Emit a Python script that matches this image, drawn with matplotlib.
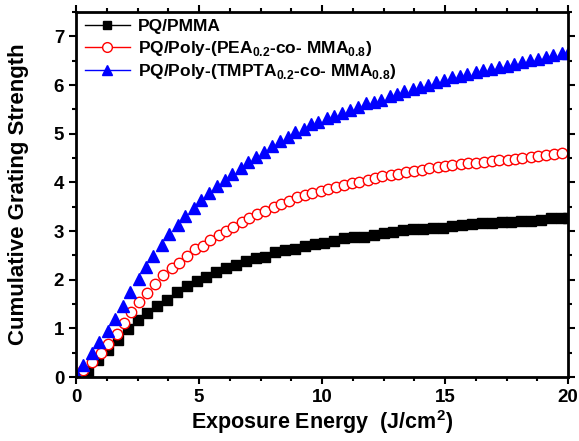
import matplotlib
matplotlib.use("Agg")
import matplotlib.pyplot as plt
from matplotlib.ticker import MultipleLocator
from matplotlib.lines import Line2D

plt.rcParams['font.family'] = ['Liberation Sans', 'DejaVu Sans']
plt.rcParams['mathtext.fontset'] = 'custom'
plt.rcParams['mathtext.rm'] = 'Liberation Sans'
plt.rcParams['mathtext.bf'] = 'Liberation Sans:bold'

pmma_x = [0.5, 0.9, 1.3, 1.7, 2.1, 2.5, 2.9, 3.3, 3.7, 4.1, 4.5, 4.9, 5.3, 5.7, 6.1, 6.5, 6.9, 7.3, 7.7,
          8.1, 8.5, 8.9, 9.3, 9.7, 10.1, 10.5, 10.9, 11.3, 11.7, 12.1, 12.5, 12.9, 13.3, 13.7, 14.1, 14.5,
          14.9, 15.3, 15.7, 16.1, 16.5, 16.9, 17.3, 17.7, 18.1, 18.5, 18.9, 19.3, 19.7, 20.0]
pmma_y = [0.13, 0.34, 0.56, 0.77, 0.98, 1.17, 1.31, 1.46, 1.59, 1.74, 1.87, 1.97, 2.05, 2.15, 2.25, 2.30,
          2.38, 2.44, 2.47, 2.57, 2.60, 2.64, 2.70, 2.73, 2.75, 2.80, 2.85, 2.87, 2.88, 2.92, 2.95, 2.97,
          3.02, 3.04, 3.05, 3.06, 3.06, 3.10, 3.13, 3.15, 3.17, 3.17, 3.19, 3.19, 3.21, 3.21, 3.23, 3.26,
          3.27, 3.27]

pea_x = [0.3, 0.65, 1.0, 1.3, 1.65, 1.95, 2.25, 2.55, 2.9, 3.2, 3.55, 3.9, 4.2, 4.5, 4.85, 5.15, 5.45,
         5.8, 6.1, 6.4, 6.75, 7.05, 7.35, 7.7, 8.05, 8.35, 8.65, 9.0, 9.3, 9.6, 9.95, 10.25, 10.55, 10.9,
         11.2, 11.5, 11.85, 12.15, 12.45, 12.8, 13.1, 13.4, 13.75, 14.05, 14.35, 14.7, 15.0, 15.3, 15.65,
         15.95, 16.25, 16.6, 16.9, 17.2, 17.55, 17.85, 18.15, 18.5, 18.8, 19.1, 19.45, 19.75]
pea_y = [0.14, 0.31, 0.49, 0.67, 0.88, 1.10, 1.33, 1.54, 1.72, 1.92, 2.10, 2.24, 2.35, 2.49, 2.62, 2.69,
         2.81, 2.92, 3.01, 3.09, 3.18, 3.26, 3.34, 3.41, 3.49, 3.56, 3.62, 3.69, 3.74, 3.79, 3.83, 3.86,
         3.91, 3.95, 3.98, 4.01, 4.05, 4.09, 4.12, 4.15, 4.18, 4.21, 4.23, 4.26, 4.29, 4.32, 4.34, 4.36,
         4.38, 4.39, 4.40, 4.41, 4.43, 4.45, 4.46, 4.48, 4.50, 4.52, 4.54, 4.56, 4.58, 4.61]

tmpta_x = [0.05, 0.3, 0.65, 0.95, 1.3, 1.6, 1.9, 2.2, 2.55, 2.85, 3.15, 3.5, 3.8, 4.15, 4.45, 4.8, 5.1,
           5.4, 5.75, 6.05, 6.35, 6.7, 7.0, 7.3, 7.65, 7.95, 8.3, 8.6, 8.9, 9.25, 9.55, 9.85, 10.2, 10.5,
           10.8, 11.15, 11.45, 11.8, 12.1, 12.4, 12.75, 13.05, 13.35, 13.7, 14.0, 14.3, 14.65, 14.95,
           15.3, 15.6, 15.9, 16.25, 16.55, 16.85, 17.2, 17.5, 17.8, 18.15, 18.45, 18.8, 19.1, 19.4,
           19.75, 20.0]
tmpta_y = [0.03, 0.25, 0.50, 0.72, 0.95, 1.19, 1.45, 1.74, 2.02, 2.26, 2.49, 2.72, 2.93, 3.13, 3.30,
           3.48, 3.63, 3.78, 3.92, 4.04, 4.17, 4.29, 4.42, 4.52, 4.62, 4.74, 4.84, 4.93, 5.03, 5.10, 5.19,
           5.25, 5.32, 5.37, 5.42, 5.49, 5.55, 5.62, 5.66, 5.70, 5.77, 5.82, 5.88, 5.92, 5.96, 6.01, 6.06,
           6.11, 6.16, 6.19, 6.23, 6.26, 6.30, 6.33, 6.37, 6.40, 6.44, 6.47, 6.51, 6.54, 6.58, 6.61, 6.65,
           6.66]

labels = ['PQ/PMMA',
          r'PQ/Poly-(PEA$_{\mathregular{0.2}}$-co- MMA$_{\mathregular{0.8}}$)',
          r'PQ/Poly-(TMPTA$_{\mathregular{0.2}}$-co- MMA$_{\mathregular{0.8}}$)']

fig = plt.figure(figsize=(5.79, 4.41), dpi=100)
ax = fig.add_axes([76/579, 1-377/441, (568-76)/579, (377-12)/441])

ax.plot(pmma_x, pmma_y, ls='none', marker='s', ms=7.5, color='black', mec='black', label=labels[0])
ax.plot(pea_x, pea_y, ls='none', marker='o', ms=7.5, mfc='white', mec='red', mew=1.0, label=labels[1])
ax.plot(tmpta_x, tmpta_y, ls='none', marker='^', ms=8, color='blue', mec='blue', label=labels[2])

handles = [Line2D([], [], color='black', lw=1, marker='s', ms=6),
           Line2D([], [], color='red', lw=1, marker='o', ms=7, mfc='white', mec='red'),
           Line2D([], [], color='blue', lw=1, marker='^', ms=7)]
leg = ax.legend(handles, labels, loc='upper left', frameon=False, prop={'weight': 'bold', 'size': 12.5},
                handlelength=2.6, handletextpad=0.45, labelspacing=0.25, borderaxespad=0.2,
                borderpad=0.3, bbox_to_anchor=(0.0, 1.004))

ax.set_xlim(0, 20)
ax.set_ylim(0, 7.5)
ax.xaxis.set_major_locator(MultipleLocator(5))
ax.xaxis.set_minor_locator(MultipleLocator(1.25))
ax.yaxis.set_major_locator(MultipleLocator(1))
ax.yaxis.set_minor_locator(MultipleLocator(0.5))
ax.tick_params(which='both', direction='out', top=True, right=True, width=1.5)
ax.tick_params(which='major', length=5, labelsize=13.5)
ax.tick_params(which='minor', length=3)
for lab in ax.get_xticklabels() + ax.get_yticklabels():
    lab.set_fontweight('bold')
for s in ax.spines.values():
    s.set_linewidth(2)

ax.set_xlabel(r'Exposure Energy  (J/cm$^{\mathregular{2}}$)', fontsize=15.5, fontweight='bold', labelpad=2)
ax.set_ylabel('Cumulative Grating Strength', fontsize=16, fontweight='bold', labelpad=18)

fig.savefig('out.png', dpi=100)
